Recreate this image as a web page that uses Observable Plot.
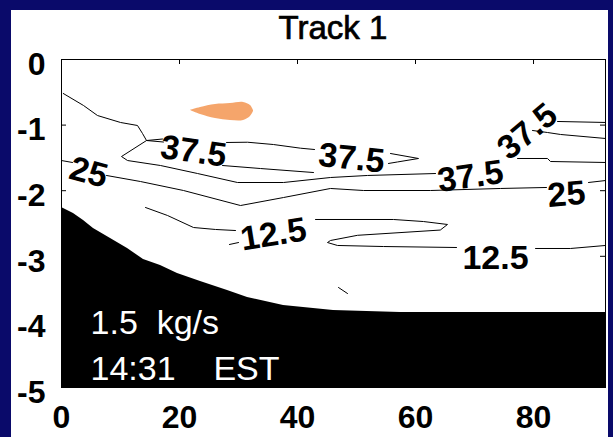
<!DOCTYPE html>
<html>
<head>
<meta charset="utf-8">
<script src="https://cdn.jsdelivr.net/npm/d3@7"></script>
<script src="https://cdn.jsdelivr.net/npm/@observablehq/plot@0.6"></script>
<style>
  html, body { margin: 0; padding: 0; }
  body { width: 613px; height: 437px; background: #0a0a6a; position: relative; overflow: hidden;
         font-family: "Liberation Sans", Arial, sans-serif; }
  #panel { position: absolute; left: 11px; top: 10px; width: 597px; height: 427px; background: #ffffff; }
  #title { position: absolute; left: 61px; width: 544px; top: 12px; text-align: center;
           font-size: 33px; line-height: 32px; color: #000; -webkit-text-stroke: 0.7px #000; }
  #chart { position: absolute; left: 0; top: 45px; }
  #chart text { white-space: pre; }
</style>
</head>
<body>
<div id="panel"></div>
<div id="title">Track 1</div>
<div id="chart"></div>
<script>
// ---------- data ----------
const xTicks = [0, 20, 40, 60, 80];
const yTicks = [0, -1, -2, -3, -4, -5];

// bottom (black) profile: [x, depth]
const terrain = [
  [0, -2.256], [2.03, -2.348], [3.73, -2.454], [5.42, -2.576], [8.31, -2.729],
  [11.19, -2.881], [13.90, -3.049], [16.78, -3.140], [19.66, -3.262], [23.56, -3.384],
  [28.14, -3.521], [31.53, -3.628], [37.63, -3.750], [46.10, -3.826], [57.46, -3.857],
  [92.2, -3.857]
];

// orange patch: x, lower edge, upper edge
const blobX     = [21.86, 23.56, 26.10, 28.64, 30.85, 32.03, 32.54];
const blobLower = [-0.777, -0.838, -0.899, -0.930, -0.930, -0.869, -0.793];
const blobUpper = [-0.777, -0.732, -0.686, -0.671, -0.655, -0.701, -0.777];

// contour level 37.5 pieces (gaps where labels sit)
const c375_main = [
  [0.3, -0.518], [3.73, -0.701], [6.10, -0.854], [10.0, -0.960], [12.88, -1.006],
  [13.73, -1.128], [14.41, -1.235], [10.17, -1.479], [11.19, -1.540], [16.78, -1.616],
  [23.05, -1.738], [29.83, -1.875], [37.63, -1.875], [45.59, -1.799], [51.86, -1.768],
  [63.39, -1.738]
];
const c375_loopA = [[17.12, -1.212], [14.41, -1.235], [17.29, -1.258]];
const c375_loopB = [[27.97, -1.265], [31.53, -1.261], [35.93, -1.296], [40.51, -1.352], [42.88, -1.372]];
const c375_loopC = [[55.76, -1.433], [60.51, -1.509], [56.95, -1.562], [55.42, -1.585]];
const c375_loopD = [[42.71, -1.723], [33.73, -1.662], [27.29, -1.616]];
const c375_right = [[84.07, -0.945], [92.2, -0.960]];
const c375_tongueA = [[92.2, -1.204], [84.58, -1.143], [82.37, -1.113], [79.83, -1.082]];
const c375_tongueB = [[77.29, -1.509], [82.37, -1.509], [82.88, -1.555], [92.2, -1.570]];

// contour level 25
const c25_a = [[0, -1.540], [1.86, -1.570]];
const c25_b = [
  [7.63, -1.768], [13.39, -1.860], [20.68, -1.997], [30.34, -2.226], [37.63, -2.104],
  [45.59, -1.966], [51.19, -1.997], [62.54, -1.997], [74.41, -1.966], [82.2, -1.951]
];
const c25_c = [[89.32, -1.875], [92.2, -1.845]];

// contour level 12.5
const c125_a = [[14.24, -2.256], [17.97, -2.378], [22.37, -2.561], [26.10, -2.591], [29.49, -2.607]];
const c125_b = [[28.47, -2.820], [30.0, -2.790]];
const c125_c = [
  [43.05, -2.439], [56.27, -2.439], [61.36, -2.470], [65.42, -2.515], [64.2, -2.600],
  [50.17, -2.680], [45.59, -2.759], [45.08, -2.790], [46.78, -2.835], [54.58, -2.851],
  [66.95, -2.866]
];
const c125_d = [[80.34, -2.881], [86.27, -2.881], [92.2, -2.835]];
const c125_e = [[46.95, -3.476], [48.47, -3.567]];

// contour labels
const labelText  = ["37.5", "37.5", "37.5", "37.5", "25", "25", "12.5", "12.5"];
const labelX     = [22.37, 49.15, 69.32, 78.98, 4.58, 85.59, 35.93, 73.56];
const labelY     = [-1.402, -1.509, -1.784, -1.098, -1.723, -2.058, -2.668, -3.034];
const labelAngle = [8, 6, -8, -40, 15, -5, -9, 0];

// white annotations on the bottom
const noteText = ["1.5  kg/s", "14:31    EST"];
const noteX    = [4.92, 4.92];
const noteY    = [-4.177, -4.893];

// ---------- build tables ----------
const segments = {c375_main, c375_loopA, c375_loopB, c375_loopC, c375_loopD, c375_right,
  c375_tongueA, c375_tongueB, c25_a, c25_b, c25_c, c125_a, c125_b, c125_c, c125_d, c125_e};
const contourPts = Object.entries(segments).flatMap(([seg, pts]) => pts.map(([x, y]) => ({seg, x, y})));
const terrainPts = terrain.map(([x, y]) => ({x, y}));
const blobPts = blobX.map((x, i) => ({x, y1: blobLower[i], y2: blobUpper[i]}));
const labels = labelText.map((t, i) => ({t, x: labelX[i], y: labelY[i], a: labelAngle[i]}));
const notes = noteText.map((t, i) => ({t, x: noteX[i], y: noteY[i]}));

const W = 613, H = 392, mL = 61, mR = 8, mT = 14, mB = 50;
const plotW = W - mL - mR, plotH = H - mT - mB;
const font = '"Liberation Sans", Arial, sans-serif';

const chart = Plot.plot({
  width: W, height: H,
  marginLeft: mL, marginRight: mR, marginTop: mT, marginBottom: mB,
  style: {background: "transparent", fontFamily: font, color: "black", overflow: "visible"},
  x: {domain: [0, 92.2], label: null},
  y: {domain: [-5, 0], label: null},
  marks: [
    Plot.areaY(blobPts, {x: "x", y1: "y1", y2: "y2", fill: "#f5a56b", curve: "catmull-rom"}),
    Plot.line(contourPts, {x: "x", y: "y", z: "seg", stroke: "#000", strokeWidth: 1}),
    Plot.text(labels, {x: "x", y: "y", text: "t", rotate: "a", fontSize: 34, fontWeight: "bold",
      fill: "black", textAnchor: "middle", lineAnchor: "middle"}),
    Plot.tickX(xTicks, {x: d => d, insetTop: plotH - 5, stroke: "black"}),
    Plot.tickY(yTicks, {y: d => d, insetRight: plotW - 5, stroke: "black"}),
    Plot.areaY(terrainPts, {x: "x", y1: -5, y2: "y", fill: "black"}),
    Plot.text(notes, {x: "x", y: "y", text: "t", fill: "white", fontSize: 34,
      textAnchor: "start", lineAnchor: "bottom"}),
    Plot.tickX(xTicks.filter(d => d > 0), {x: d => d, insetBottom: plotH - 5, stroke: "black"}),
    Plot.tickY(yTicks.filter(d => d < 0 && d > -5), {y: d => d, insetLeft: plotW - 5, stroke: "black"}),
    Plot.frame({stroke: "black"}),
    Plot.axisX(xTicks, {anchor: "bottom", tickSize: 0, tickPadding: 18, fontSize: 32, fontWeight: "bold",
      tickFormat: d => String(d), label: null, fill: "black"}),
    Plot.axisY(yTicks, {anchor: "left", tickSize: 0, tickPadding: 16, dy: 5, fontSize: 32, fontWeight: "bold",
      tickFormat: d => String(d), label: null, fill: "black"})
  ]
});
document.getElementById("chart").appendChild(chart);
</script>
</body>
</html>
